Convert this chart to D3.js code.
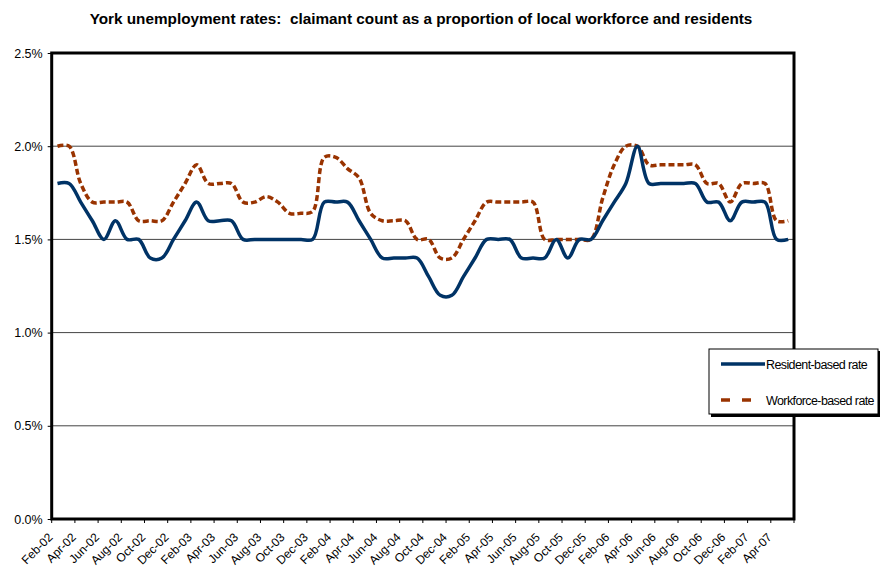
<!DOCTYPE html>
<html>
<head>
<meta charset="utf-8">
<script src="https://cdn.jsdelivr.net/npm/d3@7"></script>
<style>
  body { margin: 0; background: #fff; }
  svg { display: block; font-family: "Liberation Sans", Arial, sans-serif; }
</style>
</head>
<body>
<svg id="chart" width="880" height="569"></svg>
<script>
const titleText = "York unemployment rates:  claimant count as a proportion of local workforce and residents";

const months = [
  "Feb-02","Mar-02","Apr-02","May-02","Jun-02","Jul-02","Aug-02","Sep-02","Oct-02","Nov-02","Dec-02","Jan-03",
  "Feb-03","Mar-03","Apr-03","May-03","Jun-03","Jul-03","Aug-03","Sep-03","Oct-03","Nov-03","Dec-03","Jan-04",
  "Feb-04","Mar-04","Apr-04","May-04","Jun-04","Jul-04","Aug-04","Sep-04","Oct-04","Nov-04","Dec-04","Jan-05",
  "Feb-05","Mar-05","Apr-05","May-05","Jun-05","Jul-05","Aug-05","Sep-05","Oct-05","Nov-05","Dec-05","Jan-06",
  "Feb-06","Mar-06","Apr-06","May-06","Jun-06","Jul-06","Aug-06","Sep-06","Oct-06","Nov-06","Dec-06","Jan-07",
  "Feb-07","Mar-07","Apr-07","May-07"
];

// percent values
const residentRate = [
  1.8,1.8,1.7,1.6,1.5,1.6,1.5,1.5,1.4,1.4,1.5,1.6,
  1.7,1.6,1.6,1.6,1.5,1.5,1.5,1.5,1.5,1.5,1.5,1.7,
  1.7,1.7,1.6,1.5,1.4,1.4,1.4,1.4,1.3,1.2,1.2,1.3,
  1.4,1.5,1.5,1.5,1.4,1.4,1.4,1.5,1.4,1.5,1.5,1.6,
  1.7,1.8,2.0,1.8,1.8,1.8,1.8,1.8,1.7,1.7,1.6,1.7,
  1.7,1.7,1.5,1.5
];

const workforceRate = [
  2.0,2.0,1.8,1.7,1.7,1.7,1.7,1.6,1.6,1.6,1.7,1.8,
  1.9,1.8,1.8,1.8,1.7,1.7,1.73,1.7,1.64,1.64,1.65,1.94,
  1.94,1.88,1.83,1.64,1.6,1.6,1.6,1.5,1.5,1.4,1.4,1.5,
  1.6,1.7,1.7,1.7,1.7,1.7,1.5,1.5,1.5,1.5,1.5,1.72,
  1.9,2.0,2.0,1.9,1.9,1.9,1.9,1.9,1.8,1.8,1.7,1.8,
  1.8,1.8,1.6,1.6
];

const yTicks = [0, 0.5, 1.0, 1.5, 2.0, 2.5];
const gridValues = [0.5, 1.0, 1.5, 2.0];
const seriesNames = ["Resident-based rate", "Workforce-based rate"];
const seriesColors = ["#003366", "#993300"];

const svg = d3.select("#chart");
const pLeft = 51.7, pRight = 794, pTop = 53, pBottom = 519;

const x = d3.scaleBand().domain(months).range([pLeft, pRight]).padding(0);
const y = d3.scaleLinear().domain([0, 2.5]).range([pBottom, pTop]);
const cx = m => x(m) + x.bandwidth() / 2;

// title
svg.append("text")
  .attr("x", 421).attr("y", 24)
  .attr("text-anchor", "middle")
  .attr("font-weight", "bold")
  .attr("font-size", 15.3)
  .style("white-space", "pre")
  .attr("xml:space", "preserve")
  .text(titleText);

// gridlines
svg.append("g").selectAll("line").data(gridValues).join("line")
  .attr("x1", pLeft).attr("x2", pRight)
  .attr("y1", d => y(d)).attr("y2", d => y(d))
  .attr("stroke", "#444").attr("stroke-width", 1);

// y axis
const yAxis = d3.axisLeft(y).tickValues(yTicks).tickSize(4).tickPadding(5)
  .tickFormat(d => d.toFixed(1) + "%");
const gy = svg.append("g").attr("transform", `translate(${pLeft},0)`).call(yAxis);
gy.select(".domain").remove();
gy.selectAll("line").attr("stroke", "#000");
gy.selectAll("text").attr("font-size", 12.5).attr("fill", "#000")
  .attr("font-family", "Liberation Sans, Arial, sans-serif");

// x axis ticks every 2 categories at category boundaries
const tickIdx = d3.range(0, months.length + 1, 2);
svg.append("g").selectAll("line").data(tickIdx).join("line")
  .attr("x1", i => pLeft + i * x.bandwidth()).attr("x2", i => pLeft + i * x.bandwidth())
  .attr("y1", pBottom).attr("y2", pBottom + 4)
  .attr("stroke", "#000").attr("stroke-width", 1);

// x labels, every 2nd month
const labelMonths = months.filter((m, i) => i % 2 === 0);
svg.append("g").selectAll("text").data(labelMonths).join("text")
  .attr("transform", m => `translate(${cx(m) - 4},${pBottom + 19}) rotate(-45)`)
  .attr("text-anchor", "end")
  .attr("font-size", 12)
  .text(m => m);

// lines
const line = d3.line()
  .x((d, i) => cx(months[i]))
  .y(d => y(d))
  .curve(d3.curveCatmullRom.alpha(0.5));

svg.append("path").datum(workforceRate)
  .attr("d", line)
  .attr("fill", "none")
  .attr("stroke", seriesColors[1])
  .attr("stroke-width", 3.5)
  .attr("stroke-dasharray", "6,3");

svg.append("path").datum(residentRate)
  .attr("d", line)
  .attr("fill", "none")
  .attr("stroke", seriesColors[0])
  .attr("stroke-width", 3.5)
  .attr("stroke-linejoin", "round");

// plot frame
svg.append("rect")
  .attr("x", pLeft).attr("y", pTop)
  .attr("width", pRight - pLeft).attr("height", pBottom - pTop)
  .attr("fill", "none").attr("stroke", "#000").attr("stroke-width", 3);

// legend
const lg = svg.append("g").attr("transform", "translate(709,349)");
lg.append("rect").attr("x", 2).attr("y", 2).attr("width", 170).attr("height", 66).attr("fill", "#000");
lg.append("rect").attr("x", 0).attr("y", 0).attr("width", 169).attr("height", 65)
  .attr("fill", "#fff").attr("stroke", "#000").attr("stroke-width", 1);
const legendItems = seriesNames.map((n, i) => ({ name: n, color: seriesColors[i], dash: i === 1 }));
const li = lg.selectAll("g.item").data(legendItems).join("g")
  .attr("class", "item")
  .attr("transform", (d, i) => `translate(0,${15 + i * 36})`);
li.append("line")
  .attr("x1", 12).attr("x2", d => d.dash ? 43 : 56).attr("y1", 0).attr("y2", 0)
  .attr("stroke", d => d.color).attr("stroke-width", 3.5)
  .attr("stroke-dasharray", d => d.dash ? "9,12" : null);
li.append("text")
  .attr("x", 57).attr("y", 4.5)
  .attr("font-size", 12.5)
  .attr("letter-spacing", -0.6)
  .text(d => d.name);
</script>
</body>
</html>
